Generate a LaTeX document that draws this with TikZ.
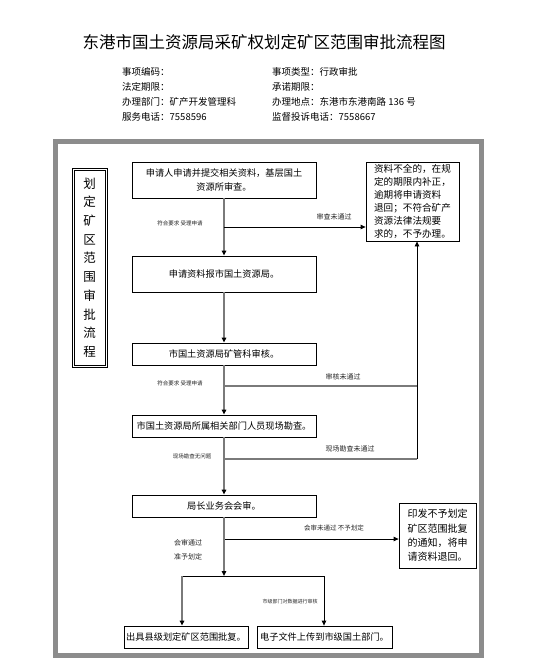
\documentclass[tikz,border=0pt]{standalone}
\usepackage{fontspec}
\setmainfont{Noto Sans CJK SC}
\usetikzlibrary{arrows.meta}
\definecolor{framegray}{HTML}{8C8C8C}
\definecolor{linegray}{HTML}{7A7A7A}
\begin{document}
\begin{tikzpicture}[x=1pt,y=-1pt,
  box/.style={draw,line width=0.8pt,inner sep=0pt,align=center,font=\fontsize{9.2}{14}\selectfont},
  info/.style={anchor=west,inner sep=0pt,font=\fontsize{9.5}{11}\selectfont},
  lbl/.style={inner sep=0pt,text=black!85,align=left},
  tip/.style={-{Triangle[length=5pt,width=4.5pt,color=black]}},
  gline/.style={draw=linegray,line width=2pt},
  bline/.style={draw=black,line width=0.8pt}]
\useasboundingbox (0,0) rectangle (533,672);
\fill[white] (0,0) rectangle (533,672);

% title and header
\node[inner sep=0pt,font=\fontsize{16.5}{18}\selectfont] (title) at (264,42) {东港市国土资源局采矿权划定矿区范围审批流程图};
\node[info] (i1) at (122,72) {事项编码：};
\node[info] (i2) at (272,72) {事项类型：行政审批};
\node[info] (i3) at (122,87) {法定期限：};
\node[info] (i4) at (272,87) {承诺期限：};
\node[info] (i5) at (122,102) {办理部门：矿产开发管理科};
\node[info] (i6) at (272,102) {办理地点：东港市东港南路 136 号};
\node[info] (i7) at (122,117) {服务电话：7558596};
\node[info] (i8) at (272,117) {监督投诉电话：7558667};

% frame
\draw[framegray,line width=5pt] (55.5,141) rectangle (481,655);

% vertical title (double border)
\node[draw,line width=0.9pt,minimum width=35pt,minimum height=199pt,inner sep=0pt,align=center,font=\fontsize{12.5}{18.7}\selectfont] (vt) at (89.5,267.5) {划\\定\\矿\\区\\范\\围\\审\\批\\流\\程};
\draw[line width=0.9pt] ([xshift=2.5pt,yshift=-2.5pt]vt.north west) rectangle ([xshift=-2.5pt,yshift=2.5pt]vt.south east);

% boxes
\node[box,minimum width=184pt,minimum height=36pt] (b1) at (224,180) {申请人申请并提交相关资料，基层国土\\资源所审查。};
\node[box,minimum width=184pt,minimum height=36pt] (b2) at (224,274) {申请资料报市国土资源局。};
\node[box,minimum width=184pt,minimum height=22pt] (b3) at (224,354) {市国土资源局矿管科审核。};
\node[box,minimum width=184pt,minimum height=22pt] (b4) at (224,426) {市国土资源局所属相关部门人员现场勘查。};
\node[box,minimum width=184pt,minimum height=22pt] (b5) at (224,506) {局长业务会会审。};
\node[box,minimum width=124pt,minimum height=22pt] (b7) at (186,637) {出具县级划定矿区范围批复。};
\node[box,minimum width=135pt,minimum height=22pt] (b8) at (324.5,637) {电子文件上传到市级国土部门。};
\node[box,minimum width=93pt,minimum height=79pt,align=left,font=\fontsize{9.6}{12.9}\selectfont] (r1) at (412.5,201.5) {资料不全的，在规\\定的期限内补正，\\逾期将申请资料\\退回；不符合矿产\\资源法律法规要\\求的，不予办理。};
\node[box,minimum width=77pt,minimum height=65pt,align=left,font=\fontsize{10}{14.3}\selectfont] (b6) at (437.5,535.5) {印发不予划定\\矿区范围批复\\的通知，将申\\请资料退回。};

% junction coordinates
\coordinate (j1) at (224,227);
\coordinate (j2) at (224,386);
\coordinate (k2) at (417,386);
\coordinate (j3) at (224,459);
\coordinate (k3) at (417,459);
\coordinate (j4) at (224,539);
\coordinate (j5) at (224,576);
\coordinate (bl) at (182,576);
\coordinate (br) at (324,576);

% connectors
\draw[gline,tip] (b1.south) -- (b2.north);
\draw[bline,tip] (j1) -- (j1 -| r1.west);
\draw[gline,tip] (b2.south) -- (b3.north);
\draw[gline,tip] (b3.south) -- (b4.north);
\draw[gline,line width=1.6pt] (j2) -- (k2);
\draw[linegray,line width=1.1pt] (j3) -- (k3);
\draw[bline,tip] (k3) -- (k3 |- r1.south);
\draw[gline,tip] (b4.south) -- (b5.north);
\draw[bline,tip] (j4) -- (j4 -| b6.west);
\draw[gline,tip] (b5.south) -- (j5);
\draw[bline] (bl) -- (br);
\draw[gline,tip] (bl) -- (bl |- b7.north);
\draw[bline,tip] (br) -- (br |- b8.north);

% labels
\node[lbl,font=\fontsize{5.5}{7}\selectfont] (l1) at (180,223) {符合要求 受理申请};
\node[lbl,font=\fontsize{7}{8}\selectfont] (l2) at (334,217) {审查未通过};
\node[lbl,font=\fontsize{5.5}{7}\selectfont] (l3) at (180,383) {符合要求 受理申请};
\node[lbl,font=\fontsize{7}{8}\selectfont] (l4) at (343,377) {审核未通过};
\node[lbl,font=\fontsize{5.5}{7}\selectfont] (l5) at (192,456) {现场勘查无问题};
\node[lbl,font=\fontsize{7}{8}\selectfont] (l6) at (350,449) {现场勘查未通过};
\node[lbl,font=\fontsize{6.5}{8}\selectfont] (l7) at (334,528) {会审未通过 不予划定};
\node[lbl,font=\fontsize{7}{14}\selectfont] (l8) at (188,550) {会审通过\\准予划定};
\node[lbl,font=\fontsize{5}{6}\selectfont] (l9) at (290,602) {市级部门对数据进行审核};
\end{tikzpicture}
\end{document}
